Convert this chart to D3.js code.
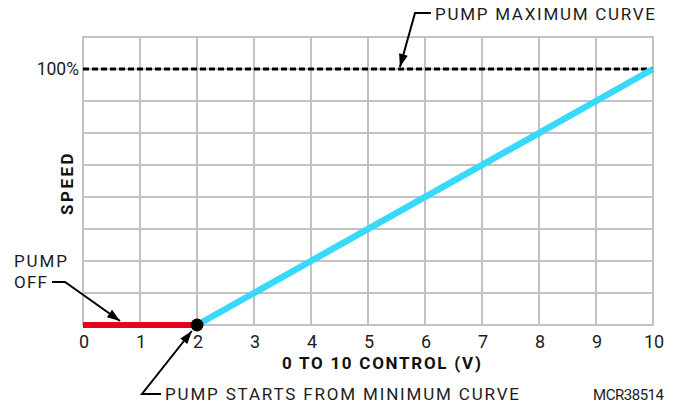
<!DOCTYPE html>
<html><head><meta charset="utf-8">
<script src="https://cdn.jsdelivr.net/npm/d3@7"></script>
<style>
html,body{margin:0;padding:0;background:#fff;}
svg{display:block;font-family:Roboto, "Noto Sans", sans-serif;}
</style></head>
<body>
<svg id="chart" width="679" height="406"></svg>
<script>
// ---- data ----
const controlTicks = [0,1,2,3,4,5,6,7,8,9,10];
const controlTickLabels = ["0","1","2","3","4","5","6","7","8","9","10"];
const speedGrid = [12.5,25,37.5,50,62.5,75,87.5,100,112.5];
const offVolts = [0, 2];
const offSpeed = [0, 0];
const rampVolts = [2, 10];
const rampSpeed = [0, 100];
const maxVolts = [0, 10];
const maxSpeed = [100, 100];
const startPoint = {v: 2, s: 0};
const yTickLabel = "100%";
const xTitle = "0 TO 10 CONTROL (V)";
const yTitle = "SPEED";
const annMax = "PUMP MAXIMUM CURVE";
const annOff = ["PUMP", "OFF"];
const annStart = "PUMP STARTS FROM MINIMUM CURVE";
const figId = "MCR38514";

// ---- layout ----
const W = 679, H = 406;
const m = {l: 83, r: 26, t: 37, b: 81};
const svg = d3.select("#chart");
const x = d3.scaleLinear().domain([0, 10]).range([m.l, W - m.r]);
const y = d3.scaleLinear().domain([0, 112.5]).range([H - m.b, m.t]);
const gridCol = "#c2c2c2";
const textCol = "#1c1c1c";

// grid
const g = svg.append("g");
g.selectAll("line.v").data(controlTicks).join("line")
  .attr("x1", d => x(d)).attr("x2", d => x(d))
  .attr("y1", y(0)).attr("y2", y(112.5))
  .attr("stroke", gridCol).attr("stroke-width", 2);
g.selectAll("line.h").data([0].concat(speedGrid)).join("line")
  .attr("x1", x(0) - 1).attr("x2", x(10) + 1)
  .attr("y1", d => y(d)).attr("y2", d => y(d))
  .attr("stroke", gridCol).attr("stroke-width", 2);

// x tick labels
svg.append("g").selectAll("text").data(controlTicks).join("text")
  .attr("x", d => x(d) + 1).attr("y", y(0) + 23)
  .attr("text-anchor", "middle").attr("font-size", 18)
  .attr("fill", textCol)
  .text((d, i) => controlTickLabels[i]);

// y tick label
svg.append("text").attr("x", x(0) - 4).attr("y", y(100) + 6)
  .attr("text-anchor", "end").attr("font-size", 17.5).attr("fill", textCol)
  .text(yTickLabel);

// axis titles
svg.append("text").attr("x", 282).attr("y", y(0) + 44)
  .attr("font-size", 17).attr("font-weight", "bold").attr("fill", "#111")
  .attr("textLength", 199).attr("lengthAdjust", "spacing")
  .text(xTitle);
svg.append("text").attr("transform", `translate(73,${(y(0)+y(112.5))/2 + 2}) rotate(-90)`)
  .attr("text-anchor", "middle")
  .attr("font-size", 17).attr("font-weight", "bold").attr("fill", "#111")
  .attr("letter-spacing", 2.5)
  .text(yTitle);

// lines
const line = d3.line().x(d => x(d[0])).y(d => y(d[1]));
svg.append("path").datum(maxVolts.map((v, i) => [v, maxSpeed[i]]))
  .attr("d", line).attr("fill", "none").attr("stroke", "#000")
  .attr("stroke-width", 3.2).attr("stroke-dasharray", "6,3");
svg.append("path").datum(offVolts.map((v, i) => [v, offSpeed[i]]))
  .attr("d", line).attr("fill", "none").attr("stroke", "#e3051b")
  .attr("stroke-width", 6);
svg.append("path").datum(rampVolts.map((v, i) => [v, rampSpeed[i]]))
  .attr("d", line).attr("fill", "none").attr("stroke", "#38d9fb")
  .attr("stroke-width", 6.5);
svg.append("circle").attr("cx", x(startPoint.v)).attr("cy", y(startPoint.s))
  .attr("r", 6.5).attr("fill", "#000");

// annotations (leader lines with arrowheads)
function leader(pts) {
  svg.append("path").attr("d", d3.line()(pts)).attr("fill", "none")
    .attr("stroke", "#000").attr("stroke-width", 2);
  const [a, b] = [pts[pts.length - 2], pts[pts.length - 1]];
  const ang = Math.atan2(b[1] - a[1], b[0] - a[0]);
  const L = 13, hw = 4.5;
  const bx = b[0] - L * Math.cos(ang), by = b[1] - L * Math.sin(ang);
  const p1 = [bx + hw * Math.sin(ang), by - hw * Math.cos(ang)];
  const p2 = [bx - hw * Math.sin(ang), by + hw * Math.cos(ang)];
  svg.append("path").attr("d", `M${b[0]},${b[1]}L${p1[0]},${p1[1]}L${p2[0]},${p2[1]}Z`)
    .attr("fill", "#000");
}
leader([[431, 13], [415, 13], [x(5.56), y(100) - 2]]);
leader([[52, 282], [65, 282], [x(0.65), y(0) - 4]]);
leader([[161, 394], [142, 394], [x(1.91), y(0) + 6]]);

svg.append("text").attr("x", 435).attr("y", 20).attr("font-size", 17)
  .attr("fill", textCol).attr("textLength", 220).attr("lengthAdjust", "spacing")
  .text(annMax);
svg.append("text").attr("x", 14).attr("y", 267).attr("font-size", 17)
  .attr("fill", textCol).attr("textLength", 53).attr("lengthAdjust", "spacing")
  .text(annOff[0]);
svg.append("text").attr("x", 14).attr("y", 288).attr("font-size", 17)
  .attr("fill", textCol).attr("textLength", 33).attr("lengthAdjust", "spacing")
  .text(annOff[1]);
svg.append("text").attr("x", 165).attr("y", 400).attr("font-size", 17)
  .attr("fill", textCol).attr("textLength", 354).attr("lengthAdjust", "spacing")
  .text(annStart);
svg.append("text").attr("x", 593).attr("y", 400).attr("font-size", 15)
  .attr("fill", textCol).attr("textLength", 71).attr("lengthAdjust", "spacing")
  .text(figId);
</script>
</body></html>
